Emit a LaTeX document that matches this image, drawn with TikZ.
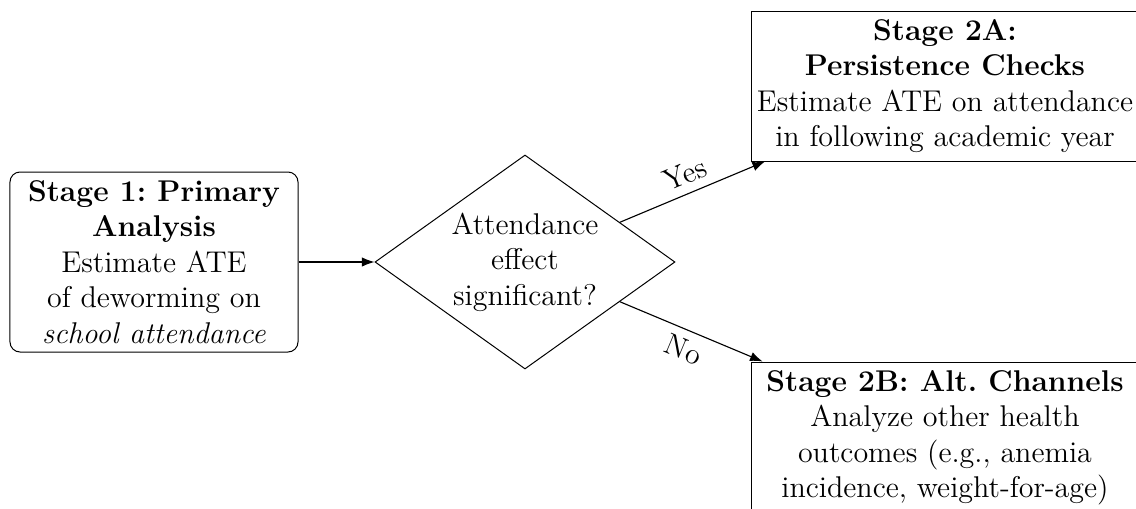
\documentclass[tikz,border=0pt]{standalone}
\usetikzlibrary{shapes.geometric,arrows.meta}
\begin{document}
\frenchspacing
\begin{tikzpicture}[x=0.4pt,y=-0.4pt,
  every node/.style={font=\fontsize{12}{14.2}\selectfont},
  stagebox/.style={draw,rectangle,align=center,inner sep=2pt},
  decbox/.style={draw,diamond,align=center,inner sep=0pt,aspect=1.4,minimum width=120pt,minimum height=85.6pt},
  conn/.style={-{Latex},line width=0.45pt}]
\useasboundingbox (0,0) rectangle (1136,508);
\node[stagebox,rounded corners=4pt,minimum width=115.2pt,minimum height=72pt] (s1) at (154,262)
  {\textbf{Stage 1: Primary}\\ \textbf{Analysis}\\ Estimate ATE\\ of deworming on\\ \textit{school attendance}};
\node[decbox] (dec) at (525,262) {Attendance\\ effect\\ significant?};
\node[stagebox,minimum width=154.4pt,minimum height=60pt] (a2) at (945,86)
  {\textbf{Stage 2A:}\\ \textbf{Persistence Checks}\\ Estimate ATE on attendance\\ in following academic year};
\node[stagebox,minimum width=154.4pt,minimum height=60.8pt] (b2) at (945,438)
  {\textbf{Stage 2B: Alt. Channels}\\ Analyze other health\\ outcomes (e.g., anemia\\ incidence, weight-for-age)};
\draw[conn] (s1) -- (dec);
\draw[conn] (dec) -- node[above,sloped] {Yes} (a2);
\draw[conn] (dec) -- node[below,sloped] {No} (b2);
\end{tikzpicture}
\end{document}
